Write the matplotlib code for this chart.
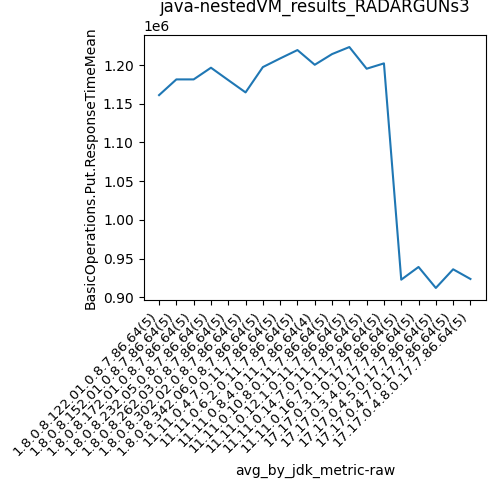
import matplotlib
matplotlib.use("Agg")
import matplotlib.pyplot as plt

labels = [
    "1.8.0.8.122.01.0.8.7.86.64(5)",
    "1.8.0.8.152.01.0.8.7.86.64(5)",
    "1.8.0.8.172.01.0.8.7.86.64(5)",
    "1.8.0.8.232.05.0.8.7.86.64(5)",
    "1.8.0.8.262.03.0.8.7.86.64(5)",
    "1.8.0.8.302.02.0.8.7.86.64(5)",
    "1.8.0.8.342.06.0.8.7.86.64(5)",
    "11.11.0.4.7.0.11.7.86.64(5)",
    "11.11.0.6.2.0.11.7.86.64(5)",
    "11.11.0.8.4.0.11.7.86.64(4)",
    "11.11.0.10.8.0.11.7.86.64(5)",
    "11.11.0.12.1.0.11.7.86.64(5)",
    "11.11.0.14.7.0.11.7.86.64(5)",
    "11.11.0.16.7.0.11.7.86.64(5)",
    "17.17.0.3.1.0.17.7.86.64(5)",
    "17.17.0.3.4.0.17.7.86.64(5)",
    "17.17.0.4.5.0.17.7.86.64(5)",
    "17.17.0.4.7.0.17.7.86.64(5)",
    "17.17.0.4.8.0.17.7.86.64(5)",
]
response_mean = [
    1.1612e6, 1.1815e6, 1.1815e6, 1.1966e6, 1.1806e6, 1.1647e6, 1.1974e6,
    1.2086e6, 1.2194e6, 1.2004e6, 1.2142e6, 1.2233e6, 1.1953e6, 1.2022e6,
    0.9228e6, 0.9392e6, 0.9121e6, 0.9362e6, 0.9237e6,
]

fig, ax = plt.subplots(figsize=(5, 5), dpi=100)
ax.plot(labels, response_mean)
ax.set_title("java-nestedVM_results_RADARGUNs3")
ax.set_xlabel("avg_by_jdk_metric-raw")
ax.set_ylabel("BasicOperations.Put.ResponseTimeMean")
plt.setp(ax.get_xticklabels(), rotation=45, ha="right", fontsize=9.6)
fig.subplots_adjust(left=0.287, right=0.972, top=0.93, bottom=0.40)
fig.savefig("out.png")
